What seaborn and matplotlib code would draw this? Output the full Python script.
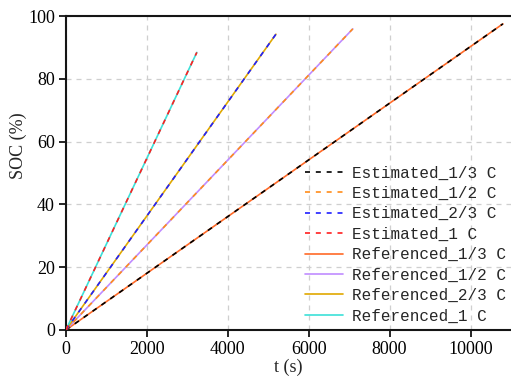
import matplotlib
matplotlib.use("Agg")
import matplotlib.pyplot as plt
import seaborn as sns
import pandas as pd

sns.set_theme(style="white")
plt.rcParams["font.family"] = ["Liberation Serif", "DejaVu Serif"]

# Charge rates and the end point of each constant-current charge
rates = ["1/3 C", "1/2 C", "2/3 C", "1 C"]
t_start = [0, 0, 0, 0]
t_end = [10800, 7090, 5190, 3235]
soc_start = [0, 0, 0, 0]
soc_end = [97.5, 95.9, 94.2, 88.4]

est_colors = ["black", "#ff8c1a", "#1f1fff", "#ff1f1f"]
ref_colors = ["#ff6a28", "#c08cff", "#e0a800", "#3ce0d8"]

fig = plt.figure(figsize=(5.11, 3.81), dpi=100)
ax = fig.add_axes([0.129, 0.134, 0.871, 0.824])

for i, r in enumerate(rates):
    sns.lineplot(x=[t_start[i], t_end[i]], y=[soc_start[i], soc_end[i]], ax=ax,
                 color=ref_colors[i], lw=1.2, label=f"Referenced_{r}", zorder=3)
for i, r in enumerate(rates):
    sns.lineplot(x=[t_start[i], t_end[i]], y=[soc_start[i], soc_end[i]], ax=ax,
                 color=est_colors[i], lw=1.2, linestyle=(0, (3, 3.5)),
                 label=f"Estimated_{r}", zorder=4)

ax.set_xlim(0, 11000)
ax.set_ylim(0, 100)
ax.set_xticks([0, 2000, 4000, 6000, 8000, 10000])
ax.set_yticks([0, 20, 40, 60, 80, 100])
ax.grid(True, color="#cfcfcf", linestyle=(0, (4, 4)), lw=0.9)
ax.set_xlabel("t (s)", fontsize=13)
ax.set_ylabel("SOC (%)", fontsize=13)
ax.xaxis.set_label_coords(0.5, -0.092)
ax.yaxis.set_label_coords(-0.088, 0.586)
ax.tick_params(axis="both", direction="out", length=5, width=1.2, labelsize=13,
               bottom=True, left=True, colors="black", pad=3)
for side in ["left", "bottom", "top"]:
    ax.spines[side].set_linewidth(1.5)
    ax.spines[side].set_color("#151515")
ax.spines["right"].set_visible(False)

handles, labels = ax.get_legend_handles_labels()
order = [4, 5, 6, 7, 0, 1, 2, 3]
leg = ax.legend([handles[k] for k in order], [labels[k] for k in order],
                loc="lower right", bbox_to_anchor=(1.01, -0.01), frameon=False,
                prop={"family": ["Liberation Mono"], "size": 11.5},
                handlelength=2.4, handletextpad=0.55, labelspacing=0.34,
                borderaxespad=0.2)

fig.savefig("out.png", dpi=100)
